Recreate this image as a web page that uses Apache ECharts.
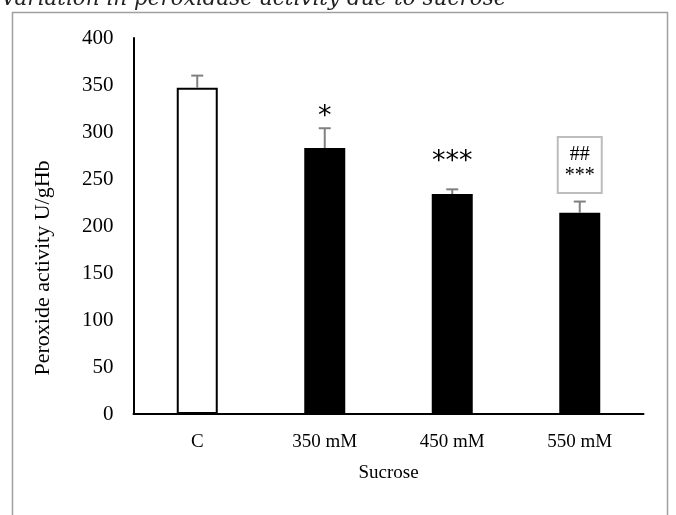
<!DOCTYPE html>
<html>
<head>
<meta charset="utf-8">
<script src="https://cdn.jsdelivr.net/npm/echarts@6/dist/echarts.min.js"></script>
<style>html,body{margin:0;padding:0;background:#fff}#c{width:676px;height:515px}</style>
</head>
<body>
<div id="c"></div>
<script>
const categories = ['C', '350 mM', '450 mM', '550 mM'];
const means = [347, 283, 234, 214];
const errors = [13, 21, 5, 12];
const marks = ['', '*', '***', '##\n***'];
const markValues = [null, 320, 272, 265];
const yTicks = { min: 0, max: 400, interval: 50 };
const titleText = 'Variation in peroxidase activity due to sucrose';
const yName = 'Peroxide activity U/gHb';
const xName = 'Sucrose';

const SERIF = '"Liberation Serif", "DejaVu Serif", serif';
const chart = echarts.init(document.getElementById('c'), null, { renderer: 'canvas' });

chart.setOption({
  animation: false,
  backgroundColor: '#fff',
  grid: { left: 133.5, right: 32.5, top: 38, bottom: 101, containLabel: false },
  xAxis: {
    type: 'category',
    data: categories,
    axisLine: { lineStyle: { color: '#000', width: 2 } },
    axisTick: { show: false },
    axisLabel: { color: '#000', fontFamily: SERIF, fontSize: 19, margin: 19 },
    name: xName,
    nameLocation: 'middle',
    nameGap: 50,
    nameTextStyle: { color: '#000', fontFamily: SERIF, fontSize: 19 }
  },
  yAxis: {
    type: 'value',
    min: yTicks.min, max: yTicks.max, interval: yTicks.interval,
    axisLine: { show: true, lineStyle: { color: '#000', width: 2 } },
    axisTick: { show: false },
    splitLine: { show: false },
    axisLabel: { color: '#000', fontFamily: SERIF, fontSize: 21, margin: 20 }
  },
  graphic: [
    { type: 'rect', shape: { x: 12.5, y: 12.5, width: 655, height: 520 },
      style: { fill: 'none', stroke: '#a0a0a0', lineWidth: 1.5 }, silent: true, z: -1 },
    { type: 'text', x: 1, y: 10,
      style: { text: titleText, fill: '#222', font: 'italic 21.5px "DejaVu Serif", serif',
        verticalAlign: 'bottom', align: 'left' } },
    { type: 'text', x: 43, y: 268, rotation: Math.PI / 2,
      style: { text: yName, fill: '#000', font: '22px ' + SERIF, align: 'center', verticalAlign: 'middle' } }
  ],
  series: [
    {
      type: 'bar',
      barWidth: 41,
      data: means.map((v, i) => ({
        value: v,
        itemStyle: i === 0
          ? { color: '#fff', borderColor: '#000', borderWidth: 2 }
          : { color: '#000', borderColor: '#000', borderWidth: 0 }
      })),
      z: 2
    },
    {
      type: 'custom',
      data: means.map((v, i) => [i, v, v + errors[i]]),
      renderItem: function (params, api) {
        const base = api.coord([api.value(0), api.value(1)]);
        const top = api.coord([api.value(0), api.value(2)]);
        const hw = 6;
        return {
          type: 'group',
          children: [
            { type: 'line', shape: { x1: base[0], y1: base[1], x2: top[0], y2: top[1] },
              style: { stroke: '#808080', lineWidth: 2 } },
            { type: 'line', shape: { x1: top[0] - hw, y1: top[1], x2: top[0] + hw, y2: top[1] },
              style: { stroke: '#808080', lineWidth: 2 } }
          ]
        };
      },
      z: 3
    },
    {
      type: 'custom',
      data: markValues.map((v, i) => [i, v == null ? 0 : v, marks[i]]),
      renderItem: function (params, api) {
        const i = params.dataIndex;
        if (!marks[i]) return null;
        const p = api.coord([i, markValues[i]]);
        if (marks[i].indexOf('\n') >= 0) {
          return {
            type: 'text', x: p[0], y: p[1],
            style: {
              text: marks[i], fill: '#000', font: '20px ' + SERIF,
              align: 'center', verticalAlign: 'middle', lineHeight: 21,
              backgroundColor: '#fff', borderColor: '#bdbdbd', borderWidth: 2,
              padding: [6, 6, 6, 6]
            }
          };
        }
        return {
          type: 'text', x: p[0], y: p[1] + 4,
          style: { text: marks[i], fill: '#000', font: '27px "DejaVu Sans", sans-serif',
            align: 'center', verticalAlign: 'middle' }
        };
      },
      z: 4
    }
  ]
});
</script>
</body>
</html>
